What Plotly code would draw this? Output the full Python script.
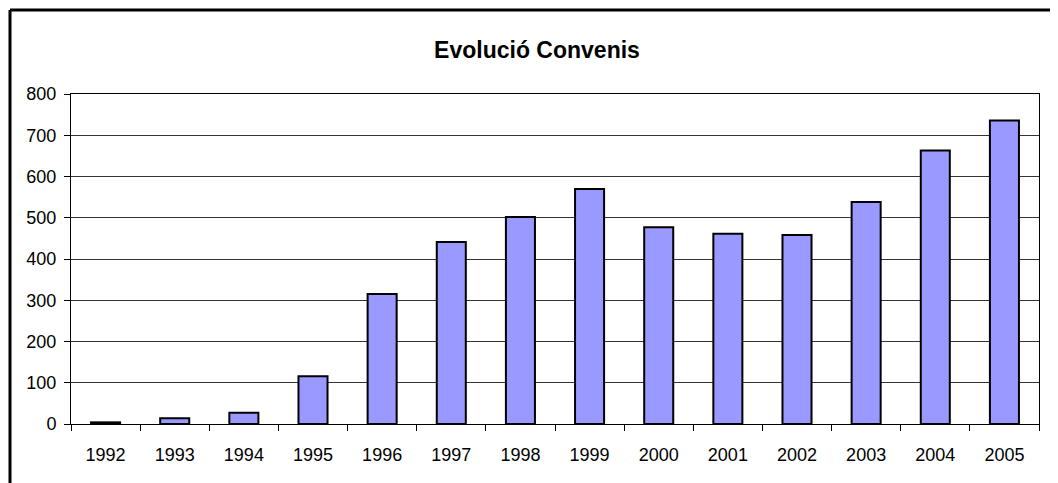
import plotly.graph_objects as go

# Data
years = ["1992", "1993", "1994", "1995", "1996", "1997", "1998",
         "1999", "2000", "2001", "2002", "2003", "2004", "2005"]
convenis = [4, 14, 27, 116, 315, 441, 502, 570, 477, 461, 458, 538, 663, 736]
y_ticks = [0, 100, 200, 300, 400, 500, 600, 700, 800]

font_family = "Liberation Sans, Arial, sans-serif"

# page body has an 8px margin, so the figure is 8px smaller than the window
W, H = 1050, 475
L, R, T, B = 63, 19, 86, 59
pw, ph = W - L - R, H - T - B

fig = go.Figure()

fig.add_trace(
    go.Bar(
        x=years,
        y=convenis,
        marker=dict(color="#9999FF", line=dict(color="black", width=2)),
        showlegend=False,
    )
)

fig.update_layout(
    width=W,
    height=H,
    margin=dict(l=L, r=R, t=T, b=B),
    paper_bgcolor="white",
    plot_bgcolor="white",
    bargap=0.58,
    font=dict(family=font_family, size=18, color="black"),
    title=dict(
        text="<b>Evolució Convenis</b>",
        font=dict(family=font_family, size=23, color="black"),
        xref="container", x=529 / W, xanchor="center",
        yref="container", y=1 - 42 / H, yanchor="middle",
    ),
    xaxis=dict(
        type="category",
        showline=True, linecolor="black", linewidth=1, mirror=True,
        ticks="outside", tickson="boundaries", ticklen=6, tickcolor="black",
        ticklabelstandoff=14,
        showgrid=False,
    ),
    yaxis=dict(
        range=[0, 800],
        tickvals=y_ticks,
        showline=True, linecolor="black", linewidth=1, mirror=True,
        ticks="outside", ticklen=6, tickcolor="black",
        ticklabelstandoff=4,
        showgrid=True, gridcolor="#333333", gridwidth=1,
        zeroline=False,
    ),
    # frame around the whole chart (only left and top visible in the crop)
    shapes=[
        dict(type="line", xref="paper", yref="paper",
             x0=(2 - L) / pw, x1=(2 - L) / pw,
             y0=(H - B - 2) / ph, y1=-B / ph - 0.1,
             line=dict(color="black", width=3)),
        dict(type="line", xref="paper", yref="paper",
             x0=(2 - L) / pw, x1=(W + 20 - L) / pw,
             y0=(H - B - 2) / ph, y1=(H - B - 2) / ph,
             line=dict(color="black", width=3)),
    ],
)

fig.write_html("out.html")
